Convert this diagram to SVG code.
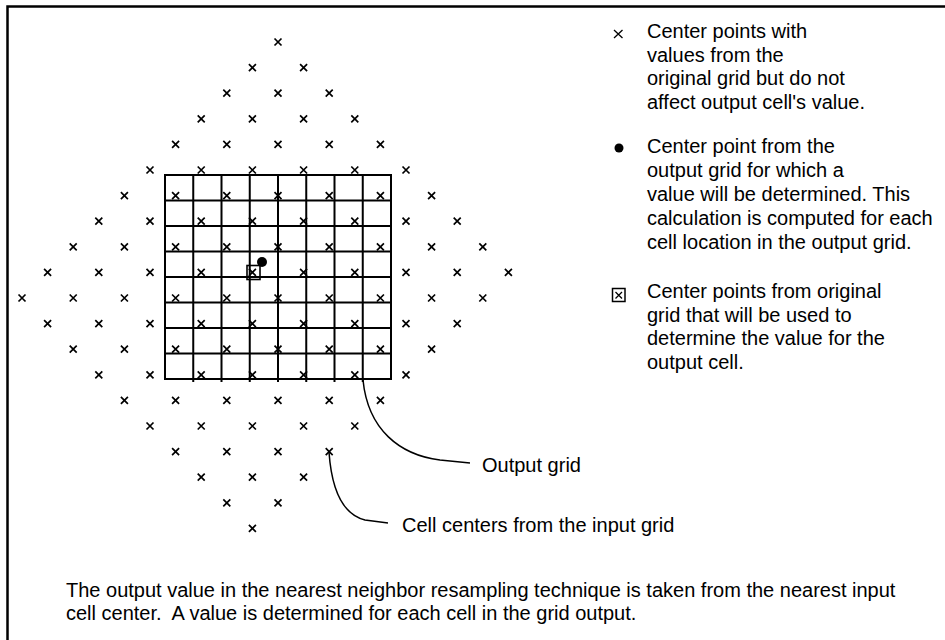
<svg xmlns="http://www.w3.org/2000/svg" width="945" height="640" viewBox="0 0 945 640">
<style>
  text { font-family: "Liberation Sans", Arial, sans-serif; font-size: 20px; fill: #000; }
  .xm { stroke: #000; stroke-width: 1.7; fill: none; }
  .xs { stroke: #000; stroke-width: 1.3; fill: none; }
  .grid { stroke: #000; stroke-width: 2; fill: none; }
  .lead { stroke: #000; stroke-width: 1.5; fill: none; }
  .frame { stroke: #000; stroke-width: 2.5; fill: none; }
</style>
<defs>
  <path id="x" class="xm" d="M-3.5,-3.5 L3.5,3.5 M3.5,-3.5 L-3.5,3.5"/>
</defs>
<rect width="945" height="640" fill="#fff"/>
<path id="frame" class="frame" d="M7.5,640 V6.5 H945"/>

<g id="input-lattice">
  <g transform="translate(0,42)"><use href="#x" x="278"/></g>
  <g transform="translate(0,67.6)"><use href="#x" x="252.4"/><use href="#x" x="303.6"/></g>
  <g transform="translate(0,93.2)"><use href="#x" x="226.8"/><use href="#x" x="278"/><use href="#x" x="329.2"/></g>
  <g transform="translate(0,118.8)"><use href="#x" x="201.2"/><use href="#x" x="252.4"/><use href="#x" x="303.6"/><use href="#x" x="354.8"/></g>
  <g transform="translate(0,144.4)"><use href="#x" x="175.6"/><use href="#x" x="226.8"/><use href="#x" x="278"/><use href="#x" x="329.2"/><use href="#x" x="380.4"/></g>
  <g transform="translate(0,170)"><use href="#x" x="150"/><use href="#x" x="201.2"/><use href="#x" x="252.4"/><use href="#x" x="303.6"/><use href="#x" x="354.8"/><use href="#x" x="406"/></g>
  <g transform="translate(0,195.6)"><use href="#x" x="124.4"/><use href="#x" x="175.6"/><use href="#x" x="226.8"/><use href="#x" x="278"/><use href="#x" x="329.2"/><use href="#x" x="380.4"/><use href="#x" x="431.6"/></g>
  <g transform="translate(0,221.2)"><use href="#x" x="98.8"/><use href="#x" x="150"/><use href="#x" x="201.2"/><use href="#x" x="252.4"/><use href="#x" x="303.6"/><use href="#x" x="354.8"/><use href="#x" x="406"/><use href="#x" x="457.2"/></g>
  <g transform="translate(0,246.8)"><use href="#x" x="73.2"/><use href="#x" x="124.4"/><use href="#x" x="175.6"/><use href="#x" x="226.8"/><use href="#x" x="278"/><use href="#x" x="329.2"/><use href="#x" x="380.4"/><use href="#x" x="431.6"/><use href="#x" x="482.8"/></g>
  <g transform="translate(0,272.4)"><use href="#x" x="47.6"/><use href="#x" x="98.8"/><use href="#x" x="150"/><use href="#x" x="201.2"/><use href="#x" x="252.4"/><use href="#x" x="303.6"/><use href="#x" x="354.8"/><use href="#x" x="406"/><use href="#x" x="457.2"/><use href="#x" x="508.4"/></g>
  <g transform="translate(0,298)"><use href="#x" x="22"/><use href="#x" x="73.2"/><use href="#x" x="124.4"/><use href="#x" x="175.6"/><use href="#x" x="226.8"/><use href="#x" x="278"/><use href="#x" x="329.2"/><use href="#x" x="380.4"/><use href="#x" x="431.6"/><use href="#x" x="482.8"/></g>
  <g transform="translate(0,323.6)"><use href="#x" x="47.6"/><use href="#x" x="98.8"/><use href="#x" x="150"/><use href="#x" x="201.2"/><use href="#x" x="252.4"/><use href="#x" x="303.6"/><use href="#x" x="354.8"/><use href="#x" x="406"/><use href="#x" x="457.2"/></g>
  <g transform="translate(0,349.2)"><use href="#x" x="73.2"/><use href="#x" x="124.4"/><use href="#x" x="175.6"/><use href="#x" x="226.8"/><use href="#x" x="278"/><use href="#x" x="329.2"/><use href="#x" x="380.4"/><use href="#x" x="431.6"/></g>
  <g transform="translate(0,374.8)"><use href="#x" x="98.8"/><use href="#x" x="150"/><use href="#x" x="201.2"/><use href="#x" x="252.4"/><use href="#x" x="303.6"/><use href="#x" x="354.8"/><use href="#x" x="406"/></g>
  <g transform="translate(0,400.4)"><use href="#x" x="124.4"/><use href="#x" x="175.6"/><use href="#x" x="226.8"/><use href="#x" x="278"/><use href="#x" x="329.2"/><use href="#x" x="380.4"/></g>
  <g transform="translate(0,426)"><use href="#x" x="150"/><use href="#x" x="201.2"/><use href="#x" x="252.4"/><use href="#x" x="303.6"/><use href="#x" x="354.8"/></g>
  <g transform="translate(0,451.6)"><use href="#x" x="175.6"/><use href="#x" x="226.8"/><use href="#x" x="278"/><use href="#x" x="329.2"/></g>
  <g transform="translate(0,477.2)"><use href="#x" x="201.2"/><use href="#x" x="252.4"/><use href="#x" x="303.6"/></g>
  <g transform="translate(0,502.8)"><use href="#x" x="226.8"/><use href="#x" x="278"/></g>
  <g transform="translate(0,528.4)"><use href="#x" x="252.4"/></g>
</g>

<g id="output-grid">
  <rect class="grid" x="165" y="175" width="226" height="204"/>
  <path class="grid" d="M193.25,175 V382 M221.5,175 V382 M249.75,175 V382 M278,175 V382 M306.25,175 V382 M334.5,175 V382 M362.75,175 V382
    M165,200.5 H391 M165,226 H391 M165,251.5 H391 M165,277 H391 M165,302.5 H391 M165,328 H391 M165,353.5 H391"/>
</g>

<g id="target-cell">
  <rect x="247" y="265.5" width="13" height="14" fill="none" stroke="#000" stroke-width="1.6"/>
  <circle cx="262" cy="262" r="5" fill="#000"/>
</g>

<g id="connectors">
  <path class="lead" d="M363,380 C368,430 400,455 440,460 L470,463"/>
  <path class="lead" d="M329,452 C332,495 345,515 365,520 L388,523"/>
</g>

<g id="label-output-grid"><text x="482" y="472">Output grid</text></g>
<g id="label-cell-centers"><text x="402" y="532">Cell centers from the input grid</text></g>

<g id="legend-x">
  <path class="xs" d="M614,30 L622.5,38 M622.5,30 L614,38"/>
  <text x="647" y="38">Center points with</text>
  <text x="647" y="61.5">values from the</text>
  <text x="647" y="85">original grid but do not</text>
  <text x="647" y="108.5">affect output cell's value.</text>
</g>

<g id="legend-dot">
  <circle cx="619" cy="148" r="4.5" fill="#000"/>
  <text x="647" y="153">Center point from the</text>
  <text x="647" y="177">output grid for which a</text>
  <text x="647" y="201">value will be determined. This</text>
  <text x="647" y="225">calculation is computed for each</text>
  <text x="647" y="249">cell location in the output grid.</text>
</g>

<g id="legend-box">
  <rect x="612.5" y="288.5" width="12.5" height="13" fill="none" stroke="#000" stroke-width="1.5"/>
  <path class="xs" d="M615.5,292 L622,298.5 M622,292 L615.5,298.5"/>
  <text x="647" y="298">Center points from original</text>
  <text x="647" y="321.5">grid that will be used to</text>
  <text x="647" y="345">determine the value for the</text>
  <text x="647" y="368.5">output cell.</text>
</g>

<g id="caption">
  <text x="66" y="597">The output value in the nearest neighbor resampling technique is taken from the nearest input</text>
  <text x="66" y="620">cell center.&#160; A value is determined for each cell in the grid output.</text>
</g>
</svg>
